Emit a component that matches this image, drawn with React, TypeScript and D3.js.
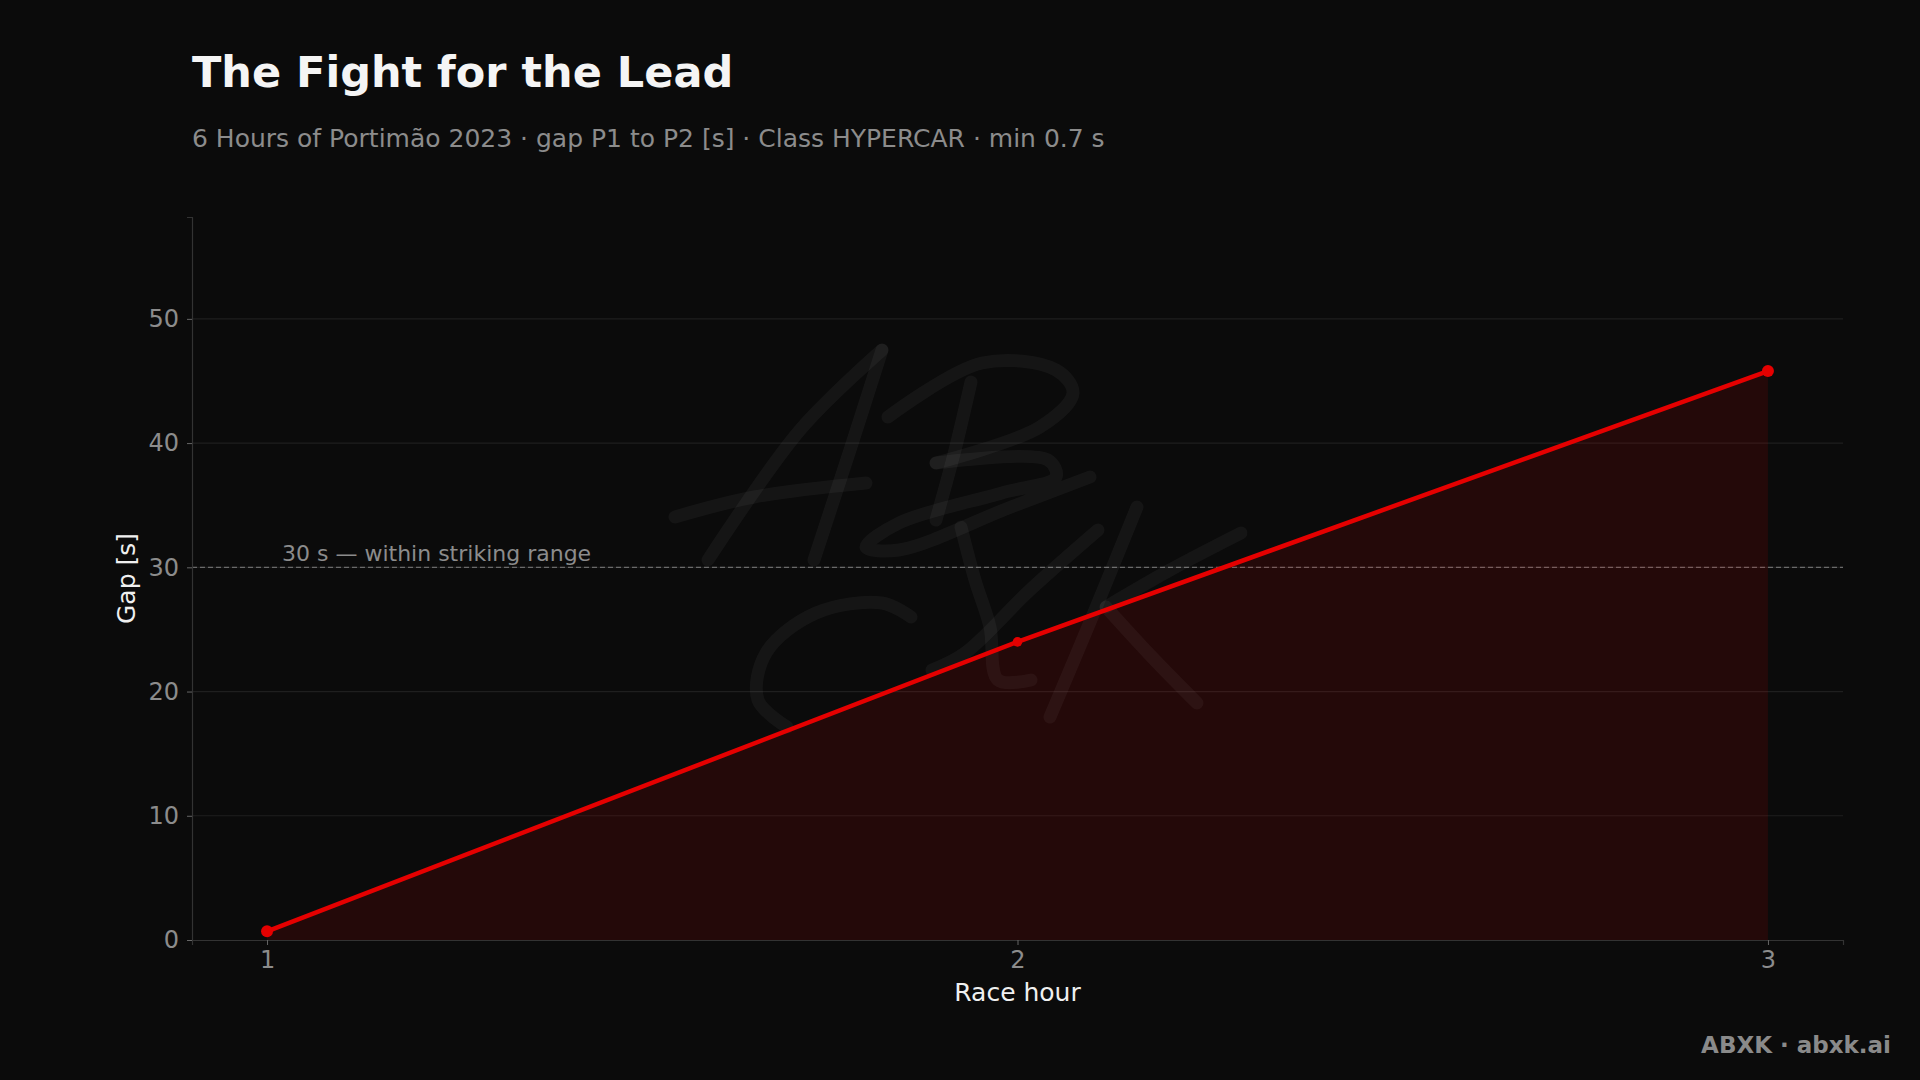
import React, { useEffect, useRef } from "react";
import * as d3 from "d3";

// race hour vs gap P1 to P2 [s]
const hours = [1, 2, 3];
const gaps = [0.7, 24.0, 45.8];
const yTicks = [0, 10, 20, 30, 40, 50];
const xTicks = [1, 2, 3];
const threshold = 30;

const W = 1920;
const H = 1080;
const margin = { top: 217, right: 77, bottom: 140, left: 192 };
const FONT = "'DejaVu Sans', sans-serif";

// rough strokes of the handwritten ABXK logo behind the plot
const logoStrokes: [number, number][][] = [
  [[708, 560], [800, 430], [882, 350]],
  [[882, 350], [850, 450], [814, 560]],
  [[675, 517], [754, 497], [866, 483]],
  [[971, 382], [955, 450], [936, 520]],
  [[888, 417], [982, 363], [1056, 370], [1073, 393], [1040, 427], [936, 463]],
  [[936, 463], [1048, 460], [1056, 477], [1002, 493], [899, 523], [866, 547], [899, 550], [1011, 507], [1090, 477]],
  [[911, 617], [882, 603], [816, 613], [766, 653], [758, 700], [787, 727]],
  [[1098, 530], [1030, 590], [965, 653], [932, 670]],
  [[961, 527], [975, 580], [990, 627], [998, 680], [1031, 680]],
  [[1137, 507], [1095, 610], [1050, 717]],
  [[1241, 533], [1170, 570], [1106, 607]],
  [[1106, 607], [1150, 655], [1197, 703]],
];

export default function App() {
  const ref = useRef<SVGSVGElement>(null);

  useEffect(() => {
    document.body.style.margin = "0";
    document.body.style.background = "#0b0b0b";
    if (!ref.current) return;
    const svg = d3.select(ref.current);
    svg.selectAll("*").remove();

    const iw = W - margin.left - margin.right;
    const ih = H - margin.top - margin.bottom;

    svg.append("rect").attr("width", W).attr("height", H).attr("fill", "#0b0b0b");

    const x = d3.scaleLinear().domain([0.9, 3.1]).range([margin.left, margin.left + iw]);
    const y = d3.scaleLinear().domain([0, 58.2]).range([margin.top + ih, margin.top]);

    // titles
    svg.append("text")
      .attr("x", 192).attr("y", 87)
      .attr("fill", "#f5f5f5").attr("font-family", FONT)
      .attr("font-size", 43).attr("font-weight", "bold")
      .text("The Fight for the Lead");
    svg.append("text")
      .attr("x", 192).attr("y", 147)
      .attr("fill", "#8c8c8c").attr("font-family", FONT)
      .attr("font-size", 25)
      .text("6 Hours of Portimão 2023 · gap P1 to P2 [s] · Class HYPERCAR · min 0.7 s");

    // grid
    svg.append("g")
      .selectAll("line")
      .data(yTicks.filter(t => t > 0))
      .join("line")
      .attr("x1", margin.left).attr("x2", margin.left + iw)
      .attr("y1", d => y(d)).attr("y2", d => y(d))
      .attr("stroke", "#1f1f1f").attr("stroke-width", 1.2);

    // threshold line
    svg.append("line")
      .attr("x1", margin.left).attr("x2", margin.left + iw)
      .attr("y1", y(threshold)).attr("y2", y(threshold))
      .attr("stroke", "#6a6a6a").attr("stroke-width", 1.3)
      .attr("stroke-dasharray", "5,3");
    svg.append("text")
      .attr("x", 282).attr("y", y(threshold) - 6)
      .attr("fill", "#8c8c8c").attr("font-family", FONT).attr("font-size", 22)
      .text("30 s — within striking range");

    const pts = hours.map((h, i) => [h, gaps[i]] as [number, number]);

    // area + line
    const area = d3.area<[number, number]>()
      .x(d => x(d[0])).y0(y(0)).y1(d => y(d[1]));
    svg.append("path").datum(pts).attr("d", area).attr("fill", "#e00000").attr("fill-opacity", 0.12);

    // watermark
    const logoLine = d3.line<[number, number]>().curve(d3.curveCatmullRom.alpha(0.5));
    svg.append("g")
      .selectAll("path")
      .data(logoStrokes)
      .join("path")
      .attr("d", d => logoLine(d))
      .attr("fill", "none")
      .attr("stroke", "#ffffff").attr("stroke-opacity", 0.045)
      .attr("stroke-width", 13).attr("stroke-linecap", "round").attr("stroke-linejoin", "round");

    const line = d3.line<[number, number]>().x(d => x(d[0])).y(d => y(d[1]));
    svg.append("path").datum(pts).attr("d", line)
      .attr("fill", "none").attr("stroke", "#e50000").attr("stroke-width", 4.5)
      .attr("stroke-linejoin", "round");
    svg.append("g")
      .selectAll("circle")
      .data(pts)
      .join("circle")
      .attr("cx", d => x(d[0])).attr("cy", d => y(d[1]))
      .attr("r", (d, i) => (i === 0 || i === pts.length - 1 ? 6 : 4.8))
      .attr("fill", "#e50000");

    // axes
    const xAxis = svg.append("g")
      .attr("transform", `translate(0,${margin.top + ih})`)
      .call(d3.axisBottom(x).tickValues(xTicks).tickFormat(d3.format("d")).tickSizeOuter(0).tickSize(5).tickPadding(6) as any);
    const yAxis = svg.append("g")
      .attr("transform", `translate(${margin.left},0)`)
      .call(d3.axisLeft(y).tickValues(yTicks).tickFormat(d3.format("d")).tickSizeOuter(0).tickSize(5).tickPadding(8) as any);
    [xAxis, yAxis].forEach(g => {
      g.select(".domain").attr("stroke", "#333333").attr("stroke-width", 1.2);
      g.selectAll(".tick line").attr("stroke", "#666666");
      g.selectAll(".tick text")
        .attr("fill", "#8c8c8c").attr("font-family", FONT).attr("font-size", 24);
    });

    svg.append("text")
      .attr("x", x(2)).attr("y", 1001)
      .attr("text-anchor", "middle")
      .attr("fill", "#f0f0f0").attr("font-family", FONT).attr("font-size", 25)
      .text("Race hour");
    svg.append("text")
      .attr("transform", `translate(135,${margin.top + ih / 2}) rotate(-90)`)
      .attr("text-anchor", "middle")
      .attr("fill", "#f0f0f0").attr("font-family", FONT).attr("font-size", 25)
      .text("Gap [s]");

    // footer
    svg.append("text")
      .attr("x", 1891).attr("y", 1053)
      .attr("text-anchor", "end")
      .attr("fill", "#8a8a8a").attr("font-family", FONT)
      .attr("font-size", 23).attr("font-weight", "bold")
      .text("ABXK · abxk.ai");
  }, []);

  return (
    <div style={{ background: "#0b0b0b", width: W, height: H }}>
      <svg ref={ref} width={W} height={H} style={{ display: "block" }} />
    </div>
  );
}
